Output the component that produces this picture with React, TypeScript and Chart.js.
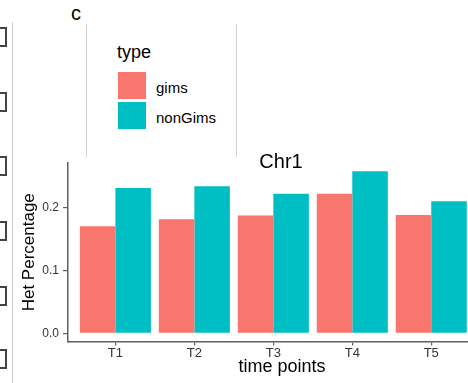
import React, { useEffect, useRef } from 'react';
import { Chart, registerables } from 'chart.js';

Chart.register(...registerables);

// ---- data ----
const categories = ['T1', 'T2', 'T3', 'T4', 'T5'];
const gimsValues = [0.171, 0.182, 0.188, 0.223, 0.189];
const nonGimsValues = [0.232, 0.235, 0.223, 0.259, 0.211];
const yTickValues = [0, 0.1, 0.2];
const seriesNames = ['gims', 'nonGims'];
const seriesColors = ['#F8766D', '#00BFC4'];
const legendTitle = 'type';
const chartTitle = 'Chr1';
const xTitle = 'time points';
const yTitle = 'Het Percentage';
const panelLabel = 'c';

const FONT = '"Liberation Sans", Arial, Helvetica, sans-serif';
const AXIS = '#5f5f5f';

const boxCenters = [37, 102, 166, 231, 296, 359];

const titlePlugin = {
  id: 'panelTitle',
  afterDraw(chart: any) {
    const { ctx, chartArea } = chart;
    ctx.save();
    ctx.font = `20px ${FONT}`;
    ctx.fillStyle = '#000';
    ctx.textAlign = 'center';
    ctx.textBaseline = 'alphabetic';
    ctx.fillText(chartTitle, (chartArea.left + chartArea.right) / 2 - 1, chartArea.top + 5.3);
    ctx.restore();
  },
};

export default function App() {
  const canvasRef = useRef<HTMLCanvasElement | null>(null);

  useEffect(() => {
    if (!canvasRef.current) return;
    const values = [gimsValues, nonGimsValues];
    const chart = new Chart(canvasRef.current, {
      type: 'bar',
      data: {
        datasets: seriesNames.map((name, s) => ({
          label: name,
          data: categories.map((_, i) => ({ x: i, y: values[s][i] })),
          backgroundColor: seriesColors[s],
          borderWidth: 0,
          categoryPercentage: 0.9,
          barPercentage: 1,
        })),
      },
      options: {
        animation: false,
        responsive: false,
        maintainAspectRatio: false,
        layout: { padding: { top: 163, left: 0, right: 0, bottom: 0 } },
        plugins: {
          legend: { display: false },
          tooltip: { enabled: false },
          title: { display: false },
        },
        scales: {
          x: {
            type: 'linear',
            min: -0.6,
            max: 4.82,
            offset: false,
            afterBuildTicks: (s: any) => {
              s.ticks = categories.map((_, i) => ({ value: i }));
            },
            afterFit: (s: any) => {
              s.height = 41.5;
            },
            grid: {
              display: true,
              drawOnChartArea: false,
              drawTicks: true,
              tickLength: 4,
              color: AXIS,
              lineWidth: 1.2,
              offset: false,
            },
            border: { display: true, color: AXIS, width: 1.5 },
            ticks: {
              callback: (v: any) => categories[Math.round(Number(v))] ?? '',
              font: { family: FONT, size: 13 },
              color: '#333333',
              padding: 0,
              maxRotation: 0,
              autoSkip: false,
            },
            title: {
              display: true,
              text: xTitle,
              font: { family: FONT, size: 18 },
              color: '#000',
              padding: { top: 0, bottom: 5 },
            },
          },
          y: {
            type: 'linear',
            min: -0.013,
            max: 0.272,
            afterBuildTicks: (s: any) => {
              s.ticks = yTickValues.map((v) => ({ value: v }));
            },
            afterFit: (s: any) => {
              s.width = 68;
            },
            grid: {
              display: true,
              drawOnChartArea: false,
              drawTicks: true,
              tickLength: 5,
              color: AXIS,
              lineWidth: 1.2,
            },
            border: { display: true, color: AXIS, width: 1.5 },
            ticks: {
              callback: (v: any) => Number(v).toFixed(1),
              font: { family: FONT, size: 12 },
              color: '#333333',
              padding: 4,
            },
            title: {
              display: true,
              text: yTitle,
              font: { family: FONT, size: 17 },
              color: '#000',
              padding: { top: 19, bottom: 0 },
            },
          },
        },
      } as any,
      plugins: [titlePlugin],
    });
    return () => chart.destroy();
  }, []);

  const textBase: React.CSSProperties = {
    position: 'absolute',
    fontFamily: FONT,
    lineHeight: 1,
    whiteSpace: 'nowrap',
    color: '#000',
  };

  return (
    <div
      style={{
        position: 'absolute',
        left: 0,
        top: 0,
        width: 468,
        height: 383,
        overflow: 'hidden',
        background: '#fff',
      }}
    >
      {/* neighbouring panel remnants */}
      {boxCenters.map((c, i) => (
        <div
          key={i}
          style={{
            position: 'absolute',
            left: -14,
            top: c - 10,
            width: 21,
            height: 20,
            boxSizing: 'border-box',
            border: '2px solid #444',
          }}
        />
      ))}
      <div style={{ position: 'absolute', left: 12, top: 22, width: 1, height: 361, background: '#cfcfcf' }} />
      <div style={{ position: 'absolute', left: 86, top: 24, width: 1, height: 133, background: '#d4d4d4' }} />
      <div style={{ position: 'absolute', left: 236, top: 24, width: 1, height: 133, background: '#d4d4d4' }} />
      <div style={{ ...textBase, left: 71, top: 3, fontSize: 20 }}>{panelLabel}</div>

      {/* legend */}
      <div style={{ ...textBase, left: 117, top: 43.3, fontSize: 18 }}>{legendTitle}</div>
      {seriesNames.map((name, i) => (
        <React.Fragment key={name}>
          <div
            style={{
              position: 'absolute',
              left: 118,
              top: 72 + i * 30,
              width: 28,
              height: 27,
              background: seriesColors[i],
            }}
          />
          <div style={{ ...textBase, left: 156, top: 79.5 + i * 30, fontSize: 15 }}>{name}</div>
        </React.Fragment>
      ))}

      <canvas
        ref={canvasRef}
        width={496}
        height={383}
        style={{ position: 'absolute', left: 0, top: 0, width: 496, height: 383 }}
      />
    </div>
  );
}
